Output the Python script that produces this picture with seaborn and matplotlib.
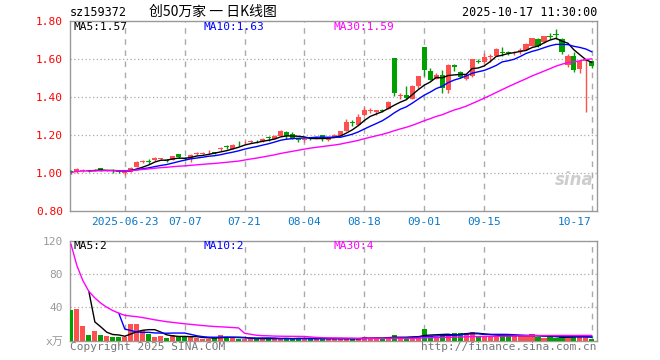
import numpy as np
import pandas as pd
import seaborn as sns
import matplotlib.pyplot as plt

sns.set_style('white')
plt.rcParams['font.family'] = ['DejaVu Sans Mono', 'Noto Sans CJK SC']

# ---- data ----
tick_idx = [9, 19, 29, 39, 49, 59, 69, 87]
tick_text = ['2025-06-23', '07-07', '07-21', '08-04', '08-18', '09-01', '09-15', '10-17']

# day before the first visible candle (listing day), only used for the moving averages
prev_close = 1.000
prev_volume = 196

opens = [1.006, 1.005, 1.012, 1.013, 1.012, 1.024, 1.013, 1.014, 1.012, 0.998,
         1.005, 1.033, 1.057, 1.063, 1.066, 1.073, 1.067, 1.068, 1.100, 1.080,
         1.076, 1.101, 1.101, 1.108, 1.110, 1.125, 1.139, 1.128, 1.159, 1.161,
         1.164, 1.169, 1.166, 1.186, 1.180, 1.196, 1.217, 1.205, 1.178, 1.176,
         1.186, 1.180, 1.198, 1.174, 1.184, 1.196, 1.222, 1.268, 1.255, 1.303,
         1.326, 1.320, 1.330, 1.338, 1.605, 1.404, 1.412, 1.391, 1.456, 1.662,
         1.538, 1.495, 1.517, 1.438, 1.570, 1.532, 1.495, 1.509, 1.589, 1.582,
         1.612, 1.617, 1.637, 1.634, 1.630, 1.643, 1.649, 1.670, 1.707, 1.687,
         1.721, 1.730, 1.707, 1.570, 1.617, 1.547, 1.590, 1.587]
closes = [1.004, 1.022, 1.015, 1.011, 1.015, 1.014, 1.015, 1.012, 1.003, 1.003,
          1.028, 1.060, 1.060, 1.060, 1.080, 1.075, 1.065, 1.089, 1.083, 1.075,
          1.096, 1.104, 1.104, 1.111, 1.107, 1.129, 1.136, 1.149, 1.156, 1.164,
          1.167, 1.166, 1.181, 1.183, 1.196, 1.223, 1.193, 1.180, 1.174, 1.179,
          1.183, 1.191, 1.180, 1.182, 1.200, 1.219, 1.270, 1.265, 1.294, 1.333,
          1.329, 1.332, 1.327, 1.376, 1.421, 1.408, 1.396, 1.459, 1.508, 1.540,
          1.491, 1.517, 1.447, 1.570, 1.556, 1.503, 1.518, 1.600, 1.586, 1.610,
          1.615, 1.654, 1.634, 1.631, 1.633, 1.646, 1.681, 1.710, 1.670, 1.719,
          1.718, 1.727, 1.635, 1.617, 1.544, 1.587, 1.598, 1.562]
highs = [1.017, 1.025, 1.022, 1.017, 1.020, 1.026, 1.018, 1.022, 1.014, 1.006,
         1.030, 1.062, 1.068, 1.072, 1.082, 1.079, 1.072, 1.091, 1.102, 1.085,
         1.098, 1.110, 1.108, 1.120, 1.113, 1.136, 1.145, 1.151, 1.170, 1.170,
         1.172, 1.174, 1.183, 1.193, 1.198, 1.228, 1.219, 1.214, 1.185, 1.183,
         1.191, 1.193, 1.200, 1.185, 1.203, 1.222, 1.282, 1.280, 1.310, 1.345,
         1.340, 1.334, 1.336, 1.378, 1.607, 1.420, 1.456, 1.461, 1.510, 1.664,
         1.553, 1.527, 1.540, 1.572, 1.572, 1.536, 1.520, 1.602, 1.598, 1.632,
         1.624, 1.656, 1.663, 1.640, 1.640, 1.658, 1.683, 1.712, 1.709, 1.721,
         1.735, 1.758, 1.708, 1.628, 1.635, 1.590, 1.600, 1.595]
lows = [0.996, 1.002, 1.006, 1.003, 1.008, 1.012, 1.010, 1.002, 1.000, 0.992,
        1.003, 1.030, 1.052, 1.047, 1.064, 1.068, 1.058, 1.066, 1.080, 1.070,
        1.060, 1.095, 1.098, 1.098, 1.100, 1.118, 1.128, 1.126, 1.144, 1.152,
        1.158, 1.160, 1.163, 1.170, 1.178, 1.194, 1.180, 1.177, 1.162, 1.163,
        1.175, 1.178, 1.168, 1.170, 1.182, 1.193, 1.220, 1.250, 1.253, 1.300,
        1.315, 1.305, 1.320, 1.336, 1.403, 1.392, 1.392, 1.389, 1.440, 1.512,
        1.489, 1.493, 1.421, 1.421, 1.535, 1.500, 1.490, 1.505, 1.577, 1.580,
        1.585, 1.615, 1.615, 1.620, 1.622, 1.628, 1.647, 1.668, 1.665, 1.685,
        1.703, 1.703, 1.626, 1.558, 1.530, 1.526, 1.319, 1.552]
volumes = [37, 38, 18, 7, 12, 7, 5.6, 4.4, 4.4, 4.4,
           20, 20, 13, 8, 4.4, 5.6, 3.2, 6.8, 4.4, 4.4,
           4.4, 3.2, 2, 2, 3.2, 6.8, 4.4, 3.2, 2, 2,
           2, 2, 3.2, 2, 2, 2, 3.2, 2, 3.2, 2,
           2, 2, 3.2, 2, 2, 2, 2, 2.8, 2, 4.4,
           2.8, 2.8, 2.8, 4.4, 6.8, 2.8, 2.8, 4.8, 5.6, 14,
           5.6, 4.4, 6.8, 6.8, 9.2, 9.2, 9.2, 10.4, 5.6, 5.6,
           5.6, 5.6, 6.8, 5.6, 5.6, 5.6, 5.6, 8, 4.4, 3.2,
           4.4, 3.2, 4.4, 4.4, 5.6, 4.4, 4.4, 2]

RED = '#ff5050'
GREEN = '#00a000'

n = len(closes)
idx = np.arange(n)
df = pd.DataFrame({'i': idx, 'open': opens, 'high': highs, 'low': lows,
                   'close': closes, 'vol': volumes})
df['up'] = np.where(df['close'] >= df['open'], 'up', 'down')

# moving averages, with the listing day in front
c_all = pd.Series([prev_close] + closes)
v_all = pd.Series([prev_volume] + volumes)
df['ma5'] = c_all.rolling(5).mean().values[1:]
df['ma10'] = c_all.rolling(10).mean().values[1:]
df['ma30'] = c_all.rolling(30, min_periods=1).mean().values[1:]
df['vma5'] = v_all.rolling(5).mean().values[1:]
df['vma10'] = v_all.rolling(10).mean().values[1:]
df['vma30'] = v_all.rolling(30, min_periods=1).mean().values[1:]

W, H = 660, 360
fig = plt.figure(figsize=(6.6, 3.6), dpi=100)
ax = fig.add_axes([70 / W, 1 - 211 / H, 527 / W, 190 / H])
axv = fig.add_axes([70 / W, 1 - 340.5 / H, 527 / W, 99.5 / H])

xlim = (-0.15, 87.85)
grid_c = '#aaaaaa'

# ---- candles ----
colors = [RED if u == 'up' else GREEN for u in df['up']]
body_lo = np.minimum(df['open'], df['close'])
body_h = np.maximum(np.abs(df['close'] - df['open']), 0.004)
ax.vlines(idx, df['low'], df['high'], colors=colors, linewidth=1, zorder=3)
ax.bar(idx, body_h, bottom=body_lo, width=0.85, color=colors, linewidth=0, zorder=4)

for col, c in [('ma5', 'black'), ('ma10', '#0000ff'), ('ma30', '#ff00ff')]:
    sns.lineplot(data=df, x='i', y=col, color=c, linewidth=1, ax=ax, zorder=5)

ax.set_xlim(*xlim)
ax.set_ylim(0.80, 1.80)
for y in [1.0, 1.2, 1.4, 1.6]:
    ax.axhline(y, color=grid_c, linestyle=(0, (1, 2)), linewidth=0.9, zorder=0)
for t in tick_idx:
    ax.axvline(t, color=grid_c, linestyle=(0, (4, 4)), linewidth=1, zorder=0)
ax.set_yticks([0.8, 1.0, 1.2, 1.4, 1.6, 1.8])
ax.set_yticklabels(['0.80', '1.00', '1.20', '1.40', '1.60', '1.80'])
ax.set_xticks(tick_idx)
ax.set_xticklabels(tick_text)
ax.tick_params(axis='y', length=0, pad=5, labelsize=8, labelcolor='#ff0000')
ax.tick_params(axis='x', length=0, pad=4, labelsize=8, labelcolor='#0a78c8')
ax.get_xticklabels()[-1].set_ha('right')
ax.set_xlabel('')
ax.set_ylabel('')

# ---- volume ----
sns.barplot(data=df, x='i', y='vol', hue='up', palette={'up': RED, 'down': GREEN},
            native_scale=True, dodge=False, width=0.85, linewidth=0, legend=False,
            saturation=1, ax=axv, zorder=3)
for col, c in [('vma5', 'black'), ('vma10', '#0000ff'), ('vma30', '#ff00ff')]:
    sns.lineplot(data=df, x='i', y=col, color=c, linewidth=1, ax=axv, zorder=5)
axv.set_xlim(*xlim)
axv.set_ylim(0, 120)
for y in [40, 80]:
    axv.axhline(y, color=grid_c, linestyle=(0, (1, 2)), linewidth=0.9, zorder=0)
for t in tick_idx:
    axv.axvline(t, color=grid_c, linestyle=(0, (4, 4)), linewidth=1, zorder=0)
axv.set_yticks([0, 40, 80, 120])
axv.set_yticklabels(['x万', '40', '80', '120'])
axv.set_xticks([])
axv.tick_params(axis='y', length=0, pad=5, labelsize=8, labelcolor='#999999')
axv.set_xlabel('')
axv.set_ylabel('')

for a in (ax, axv):
    for s in a.spines.values():
        s.set_color('#999999')
        s.set_linewidth(1)
        s.set_visible(True)


def ftext(px, py, s, **kw):
    fig.text(px / W, 1 - py / H, s, va='center', **kw)


ftext(70, 12, 'sz159372', fontsize=8.5, color='black')
ftext(213, 12, '创50万家 一 日K线图', fontsize=10, color='black', ha='center',
      family=['Noto Sans CJK SC', 'DejaVu Sans'])
ftext(597, 12, '2025-10-17 11:30:00', fontsize=8.5, color='black', ha='right')

ftext(74, 27, 'MA5:1.57', fontsize=8, color='black')
ftext(204, 27, 'MA10:1.63', fontsize=8, color='#0000ff')
ftext(334, 27, 'MA30:1.59', fontsize=8, color='#ff00ff')
ftext(74, 246, 'MA5:2', fontsize=8, color='black')
ftext(204, 246, 'MA10:2', fontsize=8, color='#0000ff')
ftext(334, 246, 'MA30:4', fontsize=8, color='#ff00ff')

ftext(70, 347, 'Copyright 2025 SINA.COM', fontsize=8, color='#777777')
ftext(597, 347, 'http://finance.sina.com.cn', fontsize=8, color='#777777', ha='right')

ftext(574, 180, 'sina', fontsize=12, color='#c8c8c8', ha='center',
      fontstyle='italic', fontweight='bold', family='DejaVu Sans', alpha=0.9)

fig.savefig('out.png', dpi=100)
